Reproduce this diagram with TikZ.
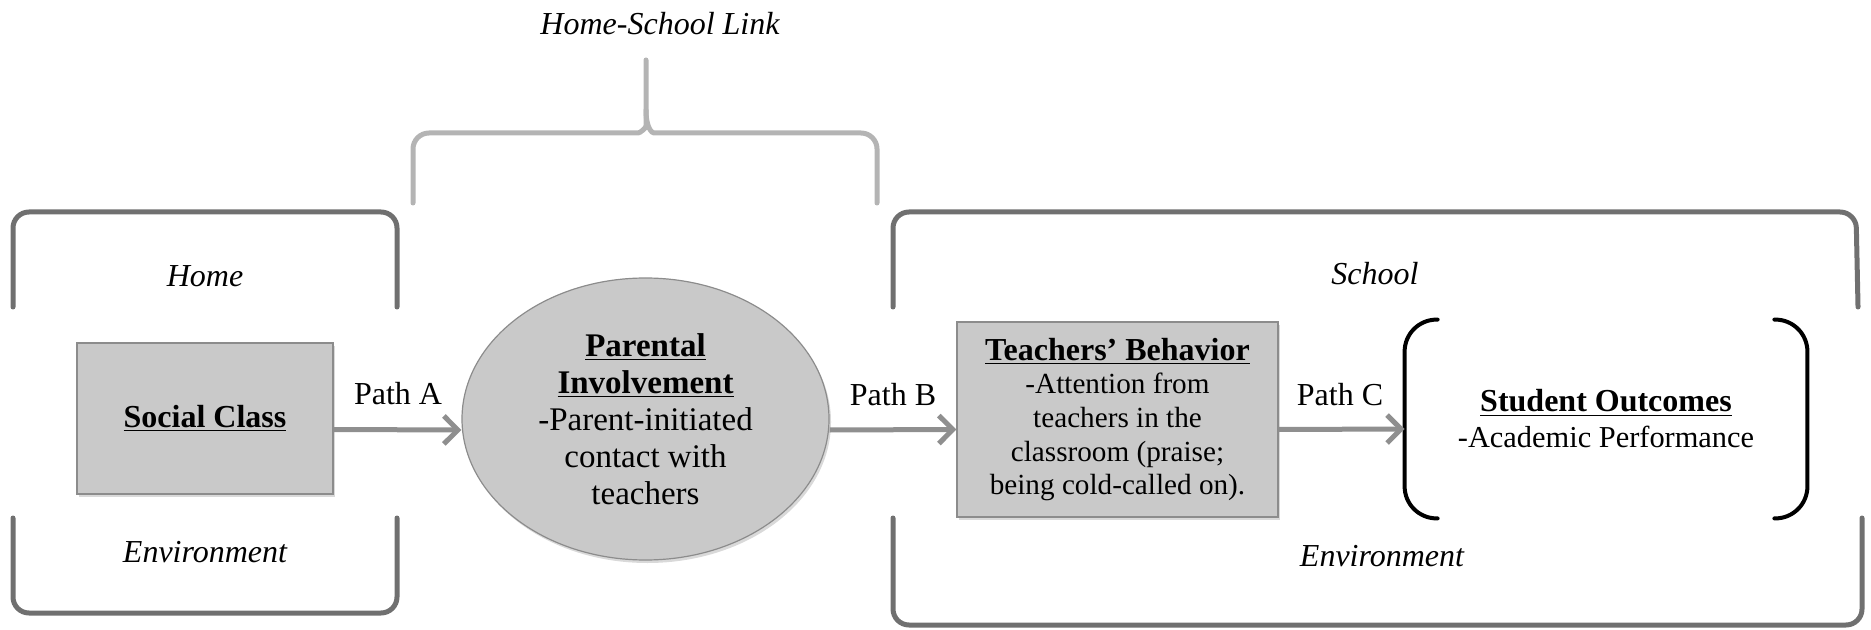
\documentclass[tikz,border=0pt]{standalone}
\usepackage{fontspec}
\setmainfont{Liberation Serif}
\usetikzlibrary{arrows.meta,shapes.geometric,shadows}
\definecolor{bracketgray}{HTML}{707070}
\definecolor{bracelight}{HTML}{B4B4B4}
\definecolor{arrowgray}{HTML}{8F8F8F}
\definecolor{boxfill}{HTML}{C9C9C9}
\definecolor{boxline}{HTML}{8C8C8C}
\begin{document}
\begin{tikzpicture}[x=0.5pt,y=-0.5pt,
  every node/.style={inner sep=0pt, align=center, text=black},
  lbl/.style={font=\fontsize{16}{19}\selectfont\itshape},
  pathlbl/.style={font=\fontsize{16}{19}\selectfont},
  envbracket/.style={draw=bracketgray, line width=2.5pt, rounded corners=8pt, line cap=round},
  hsbrace/.style={draw=bracelight, line width=2.5pt, rounded corners=8pt, line cap=round},
  parenline/.style={draw=black, line width=2pt, rounded corners=16pt, line cap=round},
  greybox/.style={rectangle, draw=boxline, line width=0.6pt, fill=boxfill,
    drop shadow={shadow xshift=1pt, shadow yshift=-1.5pt, opacity=0.3}},
  greyell/.style={ellipse, draw=boxline, line width=0.6pt, fill=boxfill,
    drop shadow={shadow xshift=1pt, shadow yshift=-1.5pt, opacity=0.3}},
  arr/.style={draw=arrowgray, line width=2.5pt, -{Straight Barb[length=7pt,width=14pt]}}
]
\useasboundingbox (0,0) rectangle (1871,630);

% Home environment brackets
\draw[envbracket] (13,307) -- (13,212) -- (397,212) -- (397,307);
\draw[envbracket] (13,518) -- (13,613) -- (397,613) -- (397,518);

% School environment brackets
\draw[envbracket] (893,307) -- (893,212) -- (1856,212) -- (1858,307);
\draw[envbracket] (893,518) -- (893,625) -- (1862,625) -- (1862,518);

% Home-School brace
\draw[hsbrace] (413,203) -- (413,133) -- (622,133) .. controls (640,133) and (646,128) .. (646,110) -- (646,60);
\draw[hsbrace] (877,203) -- (877,133) -- (670,133) .. controls (652,133) and (646,128) .. (646,110);

% Labels
\node[lbl] (hslink) at (660,24) {Home-School Link};
\node[lbl] (home) at (205,276) {Home};
\node[lbl] (homeenv) at (205,552) {Environment};
\node[lbl] (school) at (1375,274) {School};
\node[lbl] (schoolenv) at (1382,556) {Environment};

% Main nodes
\node[greybox, minimum width=128pt, minimum height=75.5pt, font=\fontsize{16}{19}\selectfont] (sc) at (205,418.5)
  {\underline{\textbf{Social Class}}};
\node[greyell, minimum width=183.5pt, minimum height=141pt, font=\fontsize{16.5}{18.5}\selectfont] (pi) at (645.5,419)
  {\underline{\textbf{Parental}}\\\underline{\textbf{Involvement}}\\-Parent-initiated\\contact with\\teachers};
\node[greybox, minimum width=160.5pt, minimum height=97.5pt, font=\fontsize{14.6}{16.8}\selectfont] (tb) at (1117.5,419.5)
  {{\fontsize{16}{17}\selectfont\underline{\textbf{Teachers’ Behavior}}}\\-Attention from\\teachers in the\\classroom (praise;\\being cold-called on).};
\node[minimum width=201pt, minimum height=99pt, font=\fontsize{15.2}{18}\selectfont] (so) at (1606,419)
  {{\fontsize{16}{18}\selectfont\underline{\textbf{Student Outcomes}}}\\-Academic Performance};

% Parentheses around student outcomes
\draw[parenline] ([xshift=16.5pt]so.north west) -- (so.north west) -- (so.south west) -- ([xshift=16.5pt]so.south west);
\draw[parenline] ([xshift=-16.5pt]so.north east) -- (so.north east) -- (so.south east) -- ([xshift=-16.5pt]so.south east);

% Arrows
\draw[arr] ([yshift=-5.5pt]sc.east) -- ([yshift=-5.5pt]pi.west);
\draw[arr] ([yshift=-5.5pt]pi.east) -- ([yshift=-5pt]tb.west);
\draw[arr] ([yshift=-5pt]tb.east) -- ([yshift=-5pt]so.west);

% Path labels
\node[pathlbl] (pa) at (398,394) {Path A};
\node[pathlbl] (pb) at (893,395) {Path B};
\node[pathlbl] (pc) at (1340,395) {Path C};
\end{tikzpicture}
\end{document}
